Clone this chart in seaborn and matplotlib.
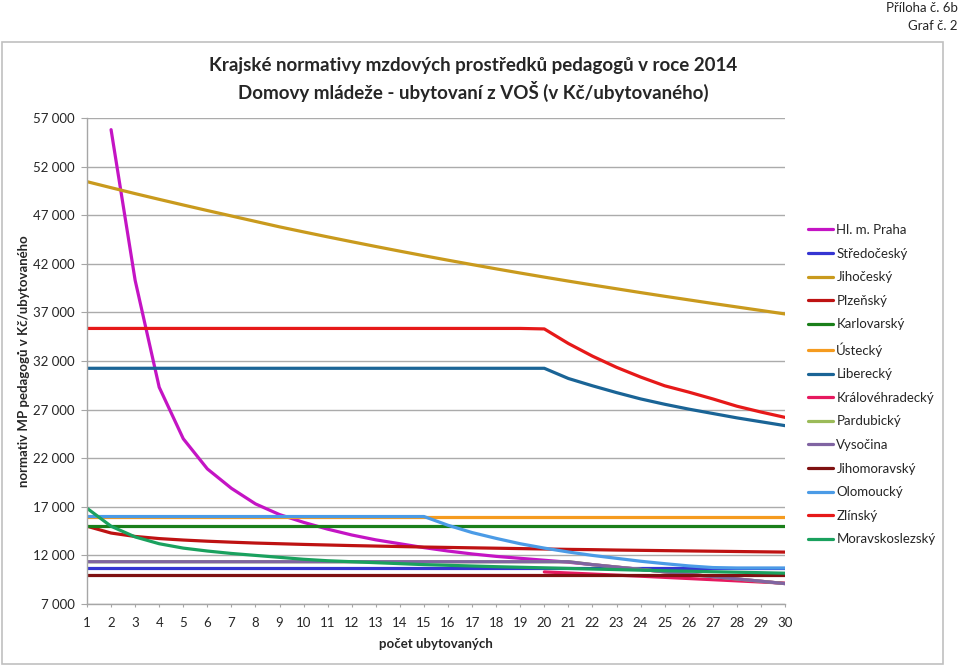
import numpy as np
import pandas as pd
import matplotlib
matplotlib.use("Agg")
import matplotlib.pyplot as plt
from matplotlib.patches import Rectangle
import seaborn as sns

# pocet ubytovanych 1..30
pocet = list(range(1, 31))

# normativy (Kc / ubytovaneho), odhad z grafu
praha = [np.nan, 55800, 40300, 29300, 24000, 20900, 18900, 17300, 16200, 15400,
         14700, 14100, 13600, 13200, 12800, 12450, 12150, 11900, 11700, 11500,
         11300, 11050, 10800, 10560, 10310, 10060, 9820, 9580, 9340, 9100]
stredocesky = [10700] * 30
jihocesky = [50450, 49830, 49220, 48630, 48050, 47480, 46920, 46360, 45800, 45280,
             44770, 44270, 43780, 43300, 42830, 42370, 41920, 41480, 41050, 40630,
             40220, 39820, 39430, 39040, 38660, 38290, 37920, 37560, 37200, 36840]
plzensky = [15000, 14300, 13950, 13730, 13580, 13460, 13360, 13270, 13200, 13130,
            13070, 13010, 12960, 12910, 12860, 12820, 12780, 12740, 12700, 12660,
            12620, 12590, 12550, 12520, 12490, 12460, 12430, 12400, 12370, 12340]
karlovarsky = [15000] * 30
ustecky = [16000] * 30
liberecky = [31250] * 20 + [30200, 29450, 28750, 28100, 27550, 27050, 26600,
                            26150, 25750, 25350]
kralovehradecky = [np.nan] * 19 + [10300, 10190, 10080, 9970, 9860, 9740, 9620,
                                   9500, 9380, 9260, 9150]
vysocina = [11350] * 21 + [11050, 10800, 10560, 10310, 10060, 9820, 9580, 9340, 9100]
pardubicky = list(vysocina)
jihomoravsky = [10000] * 30
olomoucky = [16000] * 15 + [15100, 14350, 13750, 13200, 12750, 12350, 12000, 11700,
                            11400, 11150, 10920, 10750, 10700, 10700, 10700]
zlinsky = [35350] * 19 + [35300, 33800, 32500, 31350, 30350, 29450, 28800, 28100,
                          27350, 26750, 26200]
moravskoslezsky = [16850, 15000, 13900, 13200, 12750, 12450, 12200, 12000, 11800, 11600,
                   11450, 11350, 11250, 11150, 11050, 10980, 10910, 10840, 10780, 10720,
                   10660, 10600, 10540, 10480, 10420, 10370, 10320, 10270, 10220, 10170]

kraje = ["Hl. m. Praha", "Středočeský", "Jihočeský", "Plzeňský", "Karlovarský",
         "Ústecký", "Liberecký", "Královéhradecký", "Pardubický", "Vysočina",
         "Jihomoravský", "Olomoucký", "Zlínský", "Moravskoslezský"]
hodnoty = [praha, stredocesky, jihocesky, plzensky, karlovarsky, ustecky, liberecky,
           kralovehradecky, pardubicky, vysocina, jihomoravsky, olomoucky, zlinsky,
           moravskoslezsky]
barvy = ["#C414C4", "#3535D2", "#C99A1D", "#BE1212", "#1A7F1A", "#F59B1F", "#1A6496",
         "#E6195F", "#9BBB59", "#8064A2", "#7F1111", "#4B9BE6", "#E61919", "#1AA15E"]

df = pd.DataFrame({
    "pocet": pocet * len(kraje),
    "kraj": [k for k in kraje for _ in pocet],
    "normativ": [v for h in hodnoty for v in h],
}).dropna()

sns.set_style("white")
plt.rcParams["font.family"] = ["Lato", "DejaVu Sans"]

fig = plt.figure(figsize=(9.6, 6.66), dpi=100)
ax = fig.add_axes([87 / 960, 1 - 604 / 666, 698 / 960, 486 / 666])

# ramecek grafu
fig.patches.append(Rectangle((2 / 960, 1 - 664 / 666), 941 / 960, 622 / 666,
                             transform=fig.transFigure, fill=False,
                             edgecolor="#C0C0C0", linewidth=1.2))

sns.lineplot(data=df, x="pocet", y="normativ", hue="kraj", hue_order=kraje,
             palette=dict(zip(kraje, barvy)), estimator=None, errorbar=None,
             linewidth=2.3, ax=ax)

ax.set_xlim(1, 30)
ax.set_ylim(7000, 57000)
ax.set_xticks(pocet)
yt = list(range(7000, 57001, 5000))
ax.set_yticks(yt)
ax.set_yticklabels([f"{v:,}".replace(",", " ") for v in yt])
ax.grid(axis="y", color="#ABABAB", linewidth=1)
ax.grid(axis="x", visible=False)
for s in ["top", "right"]:
    ax.spines[s].set_visible(False)
for s in ["left", "bottom"]:
    ax.spines[s].set_color("#A6A6A6")
    ax.spines[s].set_linewidth(1)
ax.tick_params(axis="y", length=4, color="#A6A6A6", pad=5, labelsize=9.5, left=True)
ax.tick_params(axis="x", length=2.5, color="#A6A6A6", pad=7, labelsize=9.5, bottom=True)

ax.set_xlabel("počet ubytovaných", fontsize=9.5, fontweight="bold", labelpad=6)
ax.set_ylabel("normativ MP pedagogů v Kč/ubytovaného", fontsize=9.5, fontweight="bold")
ax.yaxis.set_label_coords(-(87 - 30) / 698, 0.5)

fig.text(473 / 960, 1 - 66 / 666, "Krajské normativy mzdových prostředků pedagogů v roce 2014",
         ha="center", va="center", fontsize=13.5, fontweight="bold")
fig.text(473 / 960, 1 - 91 / 666, "Domovy mládeže - ubytovaní z VOŠ (v Kč/ubytovaného)",
         ha="center", va="center", fontsize=13.5, fontweight="bold")
fig.text(958 / 960, 1 - 8 / 666, "Příloha č. 6b", ha="right", va="center", fontsize=9.5)
fig.text(958 / 960, 1 - 26 / 666, "Graf č. 2", ha="right", va="center", fontsize=9.5)

sns.move_legend(ax, "upper left", bbox_to_anchor=(808 / 960, 1 - 224 / 666),
                bbox_transform=fig.transFigure, frameon=False, title=None,
                fontsize=9.5, handlelength=1.9, handletextpad=0.25,
                labelspacing=0.88, borderpad=0, borderaxespad=0)

fig.savefig("out.png", dpi=100)
